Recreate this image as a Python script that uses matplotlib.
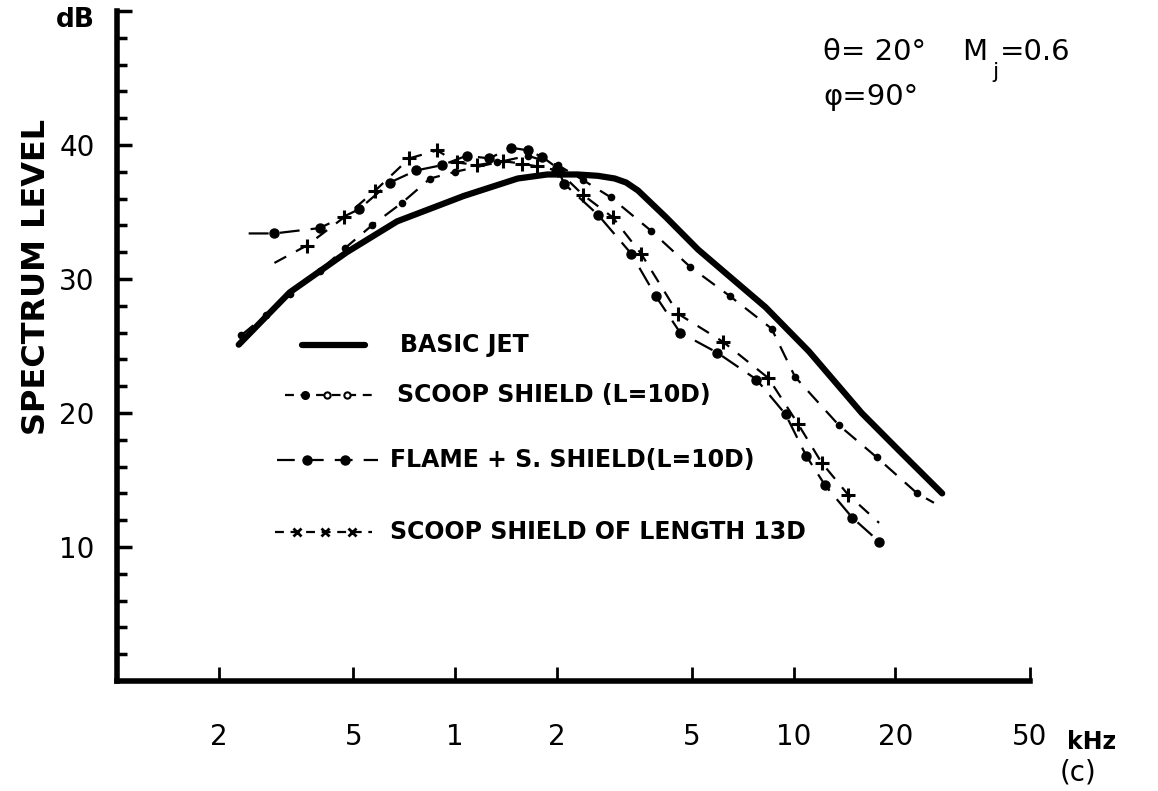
import numpy as np
import matplotlib
matplotlib.use("Agg")
import matplotlib.pyplot as plt
from matplotlib.lines import Line2D

# frequency in kHz, spectrum level in dB
basic_f = [0.229, 0.324, 0.478, 0.673, 1.06, 1.53, 1.87, 2.30, 2.64, 2.96, 3.20, 3.47, 4.2, 5.22,
           6.6, 8.26, 11.1, 15.9, 20.5, 27.5]
basic_db = [25.1, 29.0, 32.0, 34.3, 36.2, 37.5, 37.8, 37.8, 37.7, 37.5, 37.2, 36.6, 34.6, 32.2,
            30.0, 27.9, 24.6, 20.0, 17.2, 14.0]

scoop_f = [0.233, 0.275, 0.324, 0.397, 0.472, 0.567, 0.697, 0.843, 1.0, 1.33, 1.64, 2.01, 2.38,
           2.88, 3.79, 4.95, 6.50, 8.61, 10.1, 13.6, 17.6, 23.2, 26.0]
scoop_db = [25.8, 27.3, 28.9, 30.6, 32.3, 34.0, 35.7, 37.5, 38.0, 38.7, 39.2, 38.5, 37.4,
            36.1, 33.6, 30.9, 28.7, 26.3, 22.7, 19.1, 16.7, 14.0, 13.3]

flame_f = [0.245, 0.292, 0.397, 0.519, 0.641, 0.766, 0.915, 1.08, 1.26, 1.46, 1.64, 1.81, 2.0, 2.1,
           2.64, 3.31, 3.92, 4.62, 5.95, 7.77, 9.47, 10.9, 12.4, 14.9, 17.9]
flame_db = [33.4, 33.4, 33.8, 35.2, 37.2, 38.1, 38.5, 39.2, 39.0, 39.8, 39.6, 39.1, 38.3, 37.1,
            34.8, 31.9, 28.7, 26.0, 24.5, 22.5, 19.9, 16.8, 14.6, 12.2, 10.4]

shield13_f = [0.292, 0.364, 0.469, 0.580, 0.731, 0.884, 1.01, 1.16, 1.38, 1.58, 1.75, 2.01, 2.38,
              2.92, 3.54, 4.56, 6.20, 8.43, 10.3, 12.1, 14.5, 17.9]
shield13_db = [31.2, 32.5, 34.6, 36.6, 39.0, 39.6, 38.7, 38.5, 38.8, 38.6, 38.4, 38.1, 36.3,
               34.6, 31.9, 27.4, 25.3, 22.6, 19.2, 16.3, 13.9, 11.8]

xticks = [0.2, 0.5, 1, 2, 5, 10, 20, 50]
xtick_labels = ["2", "5", "1", "2", "5", "10", "20", "50"]
yticks = [10, 20, 30, 40, 50]
ytick_labels = ["10", "20", "30", "40", ""]

W, H = 1158, 791
fig = plt.figure(figsize=(W / 100, H / 100), dpi=100)
ax = fig.add_axes([117 / W, 1 - 681 / H, (1030 - 117) / W, (681 - 11) / H])

def fx(x):
    return x / W

def fy(y):
    return 1 - y / H

# curves
ax.plot(basic_f, basic_db, color="black", lw=4.5, solid_capstyle="round", solid_joinstyle="round",
        zorder=3)
ax.plot(scoop_f, scoop_db, color="black", lw=1.6, ls=(0, (7, 5)), marker="o", ms=4.5,
        markevery=list(range(0, len(scoop_f) - 1)))
ax.plot(flame_f, flame_db, color="black", lw=1.6, ls=(0, (9, 5)), marker="o", ms=6.5,
        markevery=list(range(1, len(flame_f))))
ax.plot(shield13_f, shield13_db, color="black", lw=1.6, ls=(0, (6, 5)), marker="+", ms=10, mew=2.2,
        markevery=list(range(1, len(shield13_f) - 1)))

ax.set_xscale("log")
ax.set_xlim(0.1, 50)
ax.set_ylim(0, 50)

for s in ["top", "right"]:
    ax.spines[s].set_visible(False)
for s in ["left", "bottom"]:
    ax.spines[s].set_linewidth(4)

ax.xaxis.set_minor_locator(matplotlib.ticker.NullLocator())
ax.set_xticks(xticks)
ax.set_xticklabels(xtick_labels)
ax.set_yticks(yticks)
ax.set_yticklabels(ytick_labels)
ax.set_yticks([v for v in range(2, 50, 2) if v % 10 != 0], minor=True)

ax.tick_params(axis="x", direction="in", length=10, width=2, pad=30, labelsize=20)
ax.tick_params(axis="y", which="major", direction="in", length=11, width=2.5, pad=16, labelsize=20)
ax.tick_params(axis="y", which="minor", direction="in", length=7, width=2.5)

# axis labels
fig.text(fx(75), fy(20), "dB", fontsize=19, fontweight="bold", ha="center", va="center")
fig.text(fx(37), fy(277), "SPECTRUM LEVEL", fontsize=23, fontweight="bold", rotation=90,
         ha="center", va="center")
fig.text(fx(1092), fy(742), "kHz", fontsize=17, fontweight="bold", ha="center", va="center")
fig.text(fx(1078), fy(772), "(c)", fontsize=20, ha="center", va="center")

# conditions
fig.text(fx(823), fy(52), "\u03b8= 20\u00b0", fontsize=21, ha="left", va="center")
fig.text(fx(962), fy(52), "M", fontsize=21, ha="left", va="center")
fig.text(fx(992), fy(62), "j", fontsize=16, ha="left", va="top")
fig.text(fx(1000), fy(52), "=0.6", fontsize=21, ha="left", va="center")
fig.text(fx(823), fy(97), "\u03c6=90\u00b0", fontsize=21, ha="left", va="center")

# legend drawn by hand
legend_font = dict(fontsize=17, fontweight="bold", ha="left", va="center")
fig.add_artist(Line2D([fx(302), fx(365)], [fy(345), fy(345)], color="black", lw=4.5,
                      solid_capstyle="round"))
fig.text(fx(400), fy(345), "BASIC JET", **legend_font)

fig.add_artist(Line2D([fx(285), fx(372)], [fy(395), fy(395)], color="black", lw=1.6, ls=(0, (4, 3))))
fig.add_artist(Line2D([fx(305)], [fy(395)], color="black", marker="o", ms=5.5, ls="none"))
fig.add_artist(Line2D([fx(327), fx(347)], [fy(395), fy(395)], color="black", marker="o", ms=4.5,
                      mfc="white", mew=1.5, ls="none"))
fig.text(fx(397), fy(395), "SCOOP SHIELD (L=10D)", **legend_font)

fig.add_artist(Line2D([fx(277), fx(378)], [fy(460), fy(460)], color="black", lw=1.6, ls=(0, (8, 5))))
fig.add_artist(Line2D([fx(307), fx(345)], [fy(460), fy(460)], color="black", marker="o", ms=6.5,
                      ls="none"))
fig.text(fx(390), fy(460), "FLAME + S. SHIELD(L=10D)", **legend_font)

fig.add_artist(Line2D([fx(275), fx(372)], [fy(532), fy(532)], color="black", lw=1.6, ls=(0, (4, 3))))
fig.add_artist(Line2D([fx(297), fx(325), fx(352)], [fy(532)] * 3, color="black", marker="x", ms=6,
                      mew=2, ls="none"))
fig.text(fx(390), fy(532), "SCOOP SHIELD OF LENGTH 13D", **legend_font)

fig.savefig("out.png", dpi=100, facecolor="white")
